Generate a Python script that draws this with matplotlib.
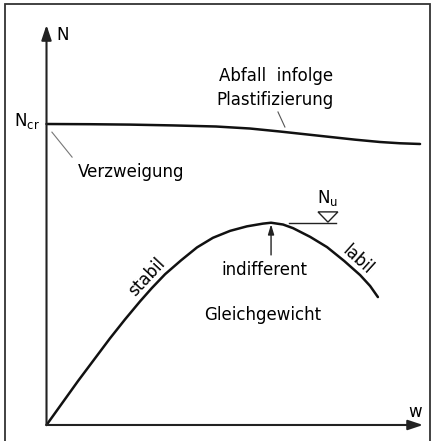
import matplotlib.pyplot as plt
from matplotlib.patches import Polygon, Rectangle

# Daten (N bezogen auf N_cr, w willkuerliche Einheit)
w_verzweigung = [0.0, 0.145, 0.277, 0.420, 0.563, 0.676, 0.776, 0.859, 0.942,
                 1.025, 1.108, 1.174, 1.241]
n_verzweigung = [1.0, 0.9993, 0.998, 0.9953, 0.9917, 0.985, 0.975, 0.966, 0.957,
                 0.948, 0.9402, 0.936, 0.9336]

w_gleichgewicht = [0.0, 0.105, 0.211, 0.261, 0.311, 0.350, 0.394, 0.447, 0.500,
                   0.553, 0.610, 0.666, 0.719, 0.746, 0.786, 0.819, 0.876, 0.932,
                   0.989, 1.042, 1.075, 1.101]
n_gleichgewicht = [0.0, 0.1465, 0.288, 0.351, 0.411, 0.455, 0.501, 0.547, 0.590,
                   0.622, 0.645, 0.660, 0.669, 0.672, 0.666, 0.654, 0.625, 0.591,
                   0.545, 0.498, 0.462, 0.425]

n_u = 0.671
w_peak = 0.746

schrift = 'DejaVu Sans'
fs = 12

fig = plt.figure(figsize=(4.32, 4.41), dpi=100)
ax = fig.add_axes([0, 0, 1, 1])
ax.set_xlim(-0.1545, 1.2807)
ax.set_ylim(-0.0532, 1.412)
ax.axis('off')

# Rahmen
ax.add_patch(Rectangle((-0.138, -0.2), 1.412, 1.599, fill=False, lw=1.3,
                       ec='#333333', clip_on=True))

# Achsen mit Pfeilen
ax.annotate('', xy=(0, 1.329), xytext=(0, 0),
            arrowprops=dict(arrowstyle='-|>,head_length=0.9,head_width=0.3',
                            lw=1.5, color='#222222', shrinkA=0, shrinkB=0))
ax.annotate('', xy=(1.251, 0), xytext=(0, 0),
            arrowprops=dict(arrowstyle='-|>,head_length=0.9,head_width=0.3',
                            lw=1.5, color='#222222', shrinkA=0, shrinkB=0))
ax.text(0.032, 1.296, 'N', fontsize=fs, family=schrift, va='center', ha='left')
ax.text(1.224, 0.043, 'w', fontsize=fs, family=schrift, va='center', ha='center')

# Kurven
ax.plot(w_verzweigung, n_verzweigung, color='#111111', lw=1.8,
        solid_joinstyle='round', solid_capstyle='round')
ax.plot(w_gleichgewicht, n_gleichgewicht, color='#111111', lw=1.8,
        solid_joinstyle='round', solid_capstyle='round')

# Beschriftungen
ax.text(-0.022, 1.01, r'N$_{\mathregular{cr}}$', fontsize=fs, family=schrift,
        ha='right', va='center')
ax.plot([0.018, 0.085], [0.973, 0.890], color='#777777', lw=0.8)
ax.text(0.281, 0.841, 'Verzweigung', fontsize=fs, family=schrift,
        ha='center', va='center')

ax.text(0.763, 1.159, 'Abfall  infolge', fontsize=fs, family=schrift,
        ha='center', va='center')
ax.text(0.759, 1.080, 'Plastifizierung', fontsize=fs, family=schrift,
        ha='center', va='center')
ax.plot([0.769, 0.792], [1.040, 0.990], color='#555555', lw=0.8)

ax.annotate('', xy=(w_peak, n_u - 0.004), xytext=(w_peak, 0.565),
            arrowprops=dict(arrowstyle='-|>,head_length=0.6,head_width=0.18',
                            lw=1.0, color='#222222', shrinkA=0, shrinkB=0))
ax.text(0.723, 0.515, 'indifferent', fontsize=fs, family=schrift,
        ha='center', va='center')
ax.text(0.719, 0.365, 'Gleichgewicht', fontsize=fs, family=schrift,
        ha='center', va='center')
ax.text(0.332, 0.493, 'stabil', fontsize=fs, family=schrift,
        ha='center', va='center', rotation=47)
ax.text(1.032, 0.548, 'labil', fontsize=fs, family=schrift,
        ha='center', va='center', rotation=-42)

# N_u Markierung
ax.plot([0.806, 0.962], [n_u, n_u], color='#222222', lw=1.0)
ax.add_patch(Polygon([(0.935, n_u + 0.003), (0.902, 0.708), (0.968, 0.708)],
                     closed=True, fill=False, ec='#222222', lw=1.0))
ax.text(0.935, 0.754, r'N$_{\mathregular{u}}$', fontsize=fs, family=schrift,
        ha='center', va='center')

fig.savefig('out.png', dpi=100, facecolor='white')
